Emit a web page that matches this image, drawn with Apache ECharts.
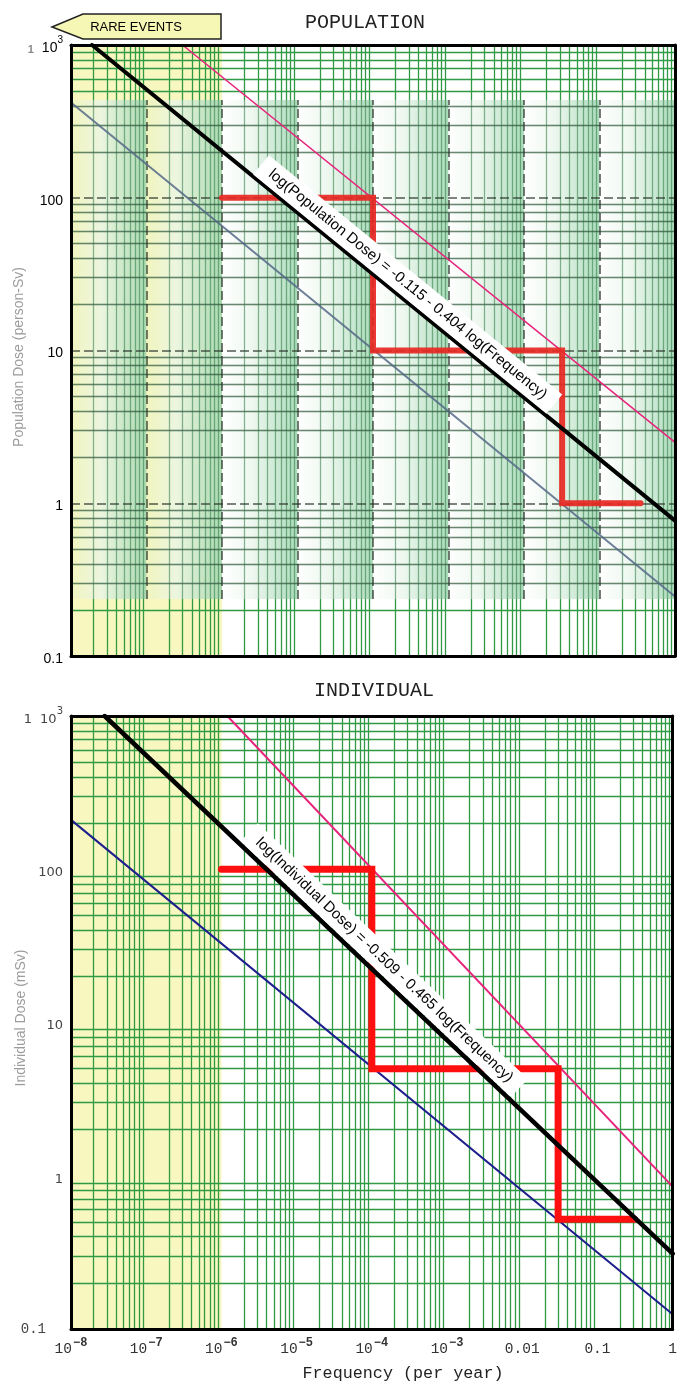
<!DOCTYPE html>
<html>
<head>
<meta charset="utf-8">
<title>Dose versus frequency</title>
<script src="https://cdn.jsdelivr.net/npm/echarts@6/dist/echarts.min.js"></script>
<style>
  html, body { margin: 0; padding: 0; background: #fff; }
  #chart { width: 680px; height: 1382px; }
</style>
</head>
<body>
<div id="chart"></div>
<script>
// shared frequency axis (per year)
const freqDecades = [1e-8, 1e-7, 1e-6, 1e-5, 1e-4, 1e-3, 0.01, 0.1, 1]
const freqTickText = ['10|-8', '10|-7', '10|-6', '10|-5', '10|-4', '10|-3', '0.01', '0.1', '1']
const doseDecades = [0.1, 1, 10, 100, 1000]
const doseTickText = ['0.1', '1', '10', '100', '1 10|3']
const minorSteps = [2, 3, 4, 5, 6, 7, 8, 9]
const rareEvents = [1e-8, 1e-6]

// POPULATION panel (person-Sv)
const popFit = [[1.9e-8, 1000], [1, 0.77]]
const popUpper = [[3.0e-7, 1000], [1, 2.5]]
const popLower = [[1e-8, 420], [1, 0.245]]
const popCriteria = [[1e-6, 100], [1e-4, 100], [1e-4, 10], [0.032, 10], [0.032, 1], [0.35, 1]]
const popScanBand = [0.236, 437]
const popEquation = 'log(Population Dose) = -0.115 - 0.404 log(Frequency)'
const popEquationAt = 2.2e-4

// INDIVIDUAL panel (mSv)
const indFit = [[2.8e-8, 1000], [1, 0.31]]
const indUpper = [[1.2e-6, 1000], [1, 0.85]]
const indLower = [[1e-8, 210], [1, 0.125]]
const indCriteria = [[1e-6, 100], [1e-4, 100], [1e-4, 5], [0.03, 5], [0.03, 0.52], [0.31, 0.52]]
const indEquation = 'log(Individual Dose) = -0.509 - 0.465 log(Frequency)'
const indEquationAt = 1.07e-4

const green = '#2f9a43'
const yellow = '#f7f7bf'
const mono = '"Liberation Mono", "DejaVu Sans Mono", monospace'
const sans = '"Liberation Sans", Arial, sans-serif'

let chart = echarts.init(document.getElementById('chart'))

function minorValues (decades) {
  let arr = []
  for (let i = 0; i < decades.length - 1; i++) {
    for (let j = 0; j < minorSteps.length; j++) {
      arr.push(minorSteps[j] * decades[i])
    }
  }
  return arr
}
let freqMinor = minorValues(freqDecades)
let doseMinor = minorValues(doseDecades)

function freqLabel (v) {
  let parts = freqTickText[Math.round(Math.log10(v)) + 8].split('|')
  if (parts.length > 1) {
    return '{b|' + parts[0] + '}{s|' + parts[1].replace('-', '\u2212') + '}'
  }
  return '{b|' + parts[0] + '}'
}

function doseLabel (bottomPanel) {
  return function (v) {
    let e = Math.round(Math.log10(v))
    let parts = doseTickText[e + 1].split('|')
    if (parts.length > 1) {
      let base = parts[0].split(' ')
      return '{g|' + base[0] + '}{b|' + base[1] + '}{s|' + parts[1] + '}'
    }
    if (bottomPanel && e === -1) return '{m|' + parts[0] + '}'
    return '{b|' + parts[0] + '}'
  }
}

function freqAxis (gridIndex, position, showLabel) {
  return {
    type: 'log',
    logBase: 10,
    gridIndex: gridIndex,
    position: position,
    min: 1e-8,
    max: 1,
    splitNumber: 8,
    z: 50,
    axisLine: { show: true, onZero: false, lineStyle: { color: '#000', width: 3 } },
    axisTick: { show: false },
    splitLine: { show: false },
    axisLabel: {
      show: showLabel,
      margin: 8,
      showMinLabel: true,
      showMaxLabel: true,
      formatter: freqLabel,
      rich: {
        b: { fontFamily: mono, fontSize: 14.5, color: '#333', lineHeight: 20, verticalAlign: 'bottom' },
        s: { fontFamily: mono, fontSize: 12, fontWeight: 'bold', color: '#333', verticalAlign: 'top', padding: [0, 0, 0, 1] }
      }
    }
  }
}

function doseAxis (gridIndex, position, showLabel, bottomPanel) {
  let font = bottomPanel ? '"DejaVu Sans", sans-serif' : sans
  let color = bottomPanel ? '#444' : '#000'
  return {
    type: 'log',
    logBase: 10,
    gridIndex: gridIndex,
    position: position,
    min: 0.1,
    max: 1000,
    splitNumber: 4,
    z: 50,
    axisLine: { show: true, onZero: false, lineStyle: { color: '#000', width: 3 } },
    axisTick: { show: false },
    splitLine: { show: false },
    axisLabel: {
      show: showLabel,
      margin: 8,
      showMinLabel: true,
      showMaxLabel: true,
      formatter: doseLabel(bottomPanel),
      rich: {
        b: { fontFamily: font, fontSize: bottomPanel ? 13 : 14, color: color, lineHeight: 20, verticalAlign: 'bottom' },
        s: { fontFamily: font, fontSize: 10, color: color, verticalAlign: 'top' },
        g: { fontFamily: font, fontSize: bottomPanel ? 13 : 11, fontWeight: bottomPanel ? 'normal' : 'bold', color: bottomPanel ? '#444' : '#8a8a8a', padding: [0, 8, 0, 0], lineHeight: 20, verticalAlign: 'bottom' },
        m: { fontFamily: mono, fontSize: 14, color: '#444', padding: [0, 17, 0, 0] }
      }
    }
  }
}

function gridLines () {
  let lines = []
  freqMinor.forEach(v => lines.push({ xAxis: v }))
  doseMinor.forEach(v => lines.push({ yAxis: v }))
  return lines
}

// the upper panel carries a pasted-in scan with its own tinted columns
function scanBands () {
  let areas = []
  for (let i = 0; i < freqDecades.length - 1; i++) {
    let start = freqDecades[i] < rareEvents[1] ? 'rgba(240,244,190,0.8)' : 'rgba(255,255,255,0.8)'
    areas.push([
      {
        xAxis: freqDecades[i],
        yAxis: popScanBand[0],
        itemStyle: {
          color: {
            type: 'linear', x: 0, y: 0, x2: 1, y2: 0,
            colorStops: [
              { offset: 0, color: start },
              { offset: 0.4, color: 'rgba(232,245,234,0.75)' },
              { offset: 1, color: 'rgba(150,210,170,0.8)' }
            ]
          }
        }
      },
      { xAxis: freqDecades[i + 1], yAxis: popScanBand[1] }
    ])
  }
  return areas
}

function scanLines () {
  let lines = []
  let inBand = v => v > popScanBand[0] && v < popScanBand[1]
  let dashed = { color: 'rgba(40,50,40,0.8)', width: 1.6, type: [9, 4] }
  let horiz = { color: 'rgba(40,70,50,0.6)', width: 1.4 }
  freqMinor.forEach(v => lines.push([{ coord: [v, popScanBand[0]] }, { coord: [v, popScanBand[1]] }]))
  doseMinor.filter(inBand).forEach(v => lines.push({ yAxis: v, lineStyle: horiz }))
  freqDecades.slice(1, -1).forEach(v => lines.push([{ coord: [v, popScanBand[0]], lineStyle: dashed }, { coord: [v, popScanBand[1]] }]))
  doseDecades.filter(inBand).forEach(v => lines.push({ yAxis: v, lineStyle: dashed }))
  return lines
}

function background (axisIndex) {
  return [
    {
      type: 'line', xAxisIndex: axisIndex, yAxisIndex: axisIndex, data: [], z: 1,
      markArea: {
        silent: true, z: 1,
        itemStyle: { color: yellow },
        data: [[{ xAxis: rareEvents[0] }, { xAxis: rareEvents[1] }]]
      }
    },
    {
      type: 'line', xAxisIndex: axisIndex, yAxisIndex: axisIndex, data: [], z: 2,
      markLine: {
        silent: true, z: 2, symbol: 'none', precision: 12,
        label: { show: false },
        lineStyle: { color: green, width: 1.3, type: 'solid' },
        emphasis: { disabled: true },
        data: gridLines()
      }
    }
  ]
}

function line (axisIndex, data, color, width, z) {
  return {
    type: 'line', xAxisIndex: axisIndex, yAxisIndex: axisIndex, data: data,
    symbol: 'none', silent: true, z: z,
    lineStyle: { color: color, width: width, cap: 'round', join: 'miter' }
  }
}

let option = {
  animation: false,
  grid: [
    { left: 71, right: 5, top: 45, height: 611 },
    { left: 71, right: 5, top: 716, height: 613 }
  ],
  xAxis: [
    freqAxis(0, 'bottom', false),
    freqAxis(0, 'top', false),
    freqAxis(1, 'bottom', true),
    freqAxis(1, 'top', false)
  ],
  yAxis: [
    doseAxis(0, 'left', true, false),
    doseAxis(0, 'right', false, false),
    doseAxis(1, 'left', true, true),
    doseAxis(1, 'right', false, true)
  ],
  series: [].concat(
    background(0),
    [
      {
        type: 'line', xAxisIndex: 0, yAxisIndex: 0, data: [], z: 3,
        markArea: { silent: true, z: 3, data: scanBands() },
        markLine: {
          silent: true, z: 4, symbol: 'none', precision: 12,
          label: { show: false },
          lineStyle: { color: 'rgba(70,130,90,0.5)', width: 1.2, type: 'solid' },
          emphasis: { disabled: true },
          data: scanLines()
        }
      },
      line(0, popLower, 'rgba(85,105,135,0.85)', 2, 10),
      line(0, popUpper, '#e8257d', 1.6, 10),
      line(0, popCriteria, 'rgba(232,40,35,0.92)', 6, 11),
      line(0, popFit, '#000', 4, 12)
    ],
    background(2),
    [
      line(2, indLower, '#1e1e8c', 2, 10),
      line(2, indUpper, '#e8257d', 2, 10),
      line(2, indCriteria, '#ff1010', 7, 11),
      line(2, indFit, '#000', 4.5, 12)
    ]
  )
}
chart.setOption(option)

// equation labels sit in white boxes along the fitted lines
function equationLabel (axisIndex, fit, at, text, offset) {
  let finder = { xAxisIndex: axisIndex, yAxisIndex: axisIndex }
  let p0 = chart.convertToPixel(finder, fit[0])
  let p1 = chart.convertToPixel(finder, fit[1])
  let angle = Math.atan2(p1[1] - p0[1], p1[0] - p0[0])
  let px = chart.convertToPixel({ xAxisIndex: axisIndex }, at)
  let py = p0[1] + (px - p0[0]) / (p1[0] - p0[0]) * (p1[1] - p0[1])
  return {
    type: 'text',
    x: px + offset * Math.sin(angle),
    y: py - offset * Math.cos(angle),
    rotation: -angle,
    z: 100,
    style: {
      text: text,
      font: '15px ' + sans,
      fill: '#000',
      align: 'center',
      verticalAlign: 'middle',
      backgroundColor: '#fff',
      padding: [5, 12, 5, 12]
    }
  }
}

function plainText (x, y, text, font, fill, extra) {
  return Object.assign({
    type: 'text', x: x, y: y, z: 100,
    style: Object.assign({ text: text, font: font, fill: fill, align: 'center', verticalAlign: 'middle' }, (extra && extra.style) || {})
  }, extra ? { rotation: extra.rotation || 0 } : {})
}

let blurred = { rotation: Math.PI / 2, style: { shadowBlur: 3, shadowColor: 'rgba(140,140,140,0.9)' } }

chart.setOption({
  graphic: {
    elements: [
      {
        type: 'polygon', z: 100,
        shape: { points: [[52, 27], [83, 14], [221, 14], [221, 39], [83, 39]] },
        style: { fill: '#f7f7b5', stroke: '#222', lineWidth: 1.5 }
      },
      plainText(136, 27, 'RARE EVENTS', '13px ' + sans, '#000'),
      plainText(365, 23, 'POPULATION', '20px ' + mono, '#222'),
      plainText(374, 691, 'INDIVIDUAL', '20px ' + mono, '#222'),
      plainText(403, 1374, 'Frequency (per year)', '16.75px ' + mono, '#222'),
      plainText(19, 357, 'Population Dose (person-Sv)', '14px ' + sans, '#9c9c9c', blurred),
      plainText(21, 1018, 'Individual Dose (mSv)', '14px ' + sans, '#9c9c9c', blurred),
      equationLabel(0, popFit, popEquationAt, popEquation, 14),
      equationLabel(2, indFit, indEquationAt, indEquation, 15)
    ]
  }
})
</script>
</body>
</html>
